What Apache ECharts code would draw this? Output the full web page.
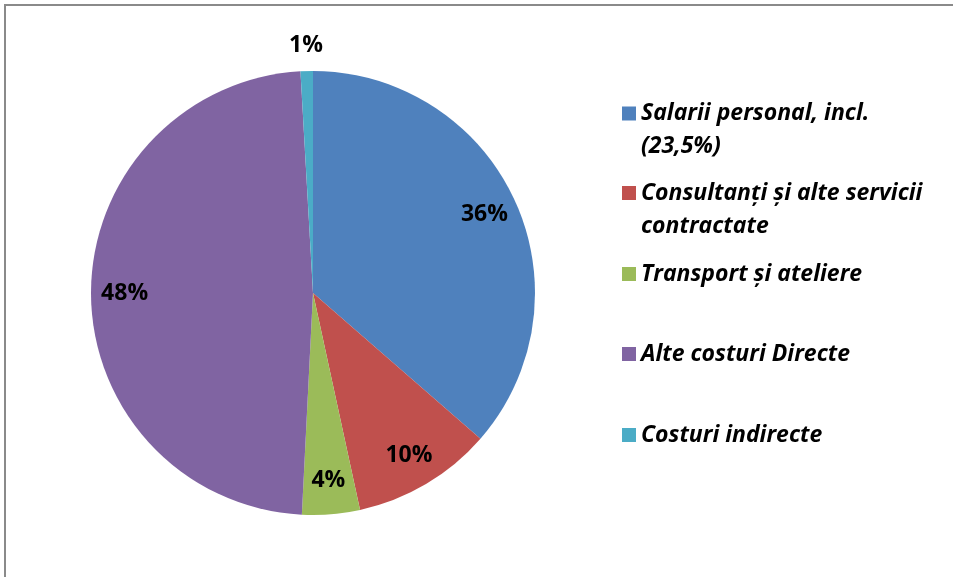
<!DOCTYPE html>
<html>
<head>
<meta charset="utf-8">
<script src="https://cdn.jsdelivr.net/npm/echarts@6/dist/echarts.min.js"></script>
<style>
  html, body { margin: 0; padding: 0; background: #fff; }
  #chart { width: 953px; height: 577px; }
</style>
</head>
<body>
<div id="chart"></div>
<script>
// date
var categorii = [
  'Salarii personal, incl.\n(23,5%)',
  'Consultanți și alte servicii\ncontractate',
  'Transport și ateliere',
  'Alte costuri Directe',
  'Costuri indirecte'
];
var valori = [36.4, 10.2, 4.2, 48.3, 0.9];
var culori = ['#4F81BD', '#C0504D', '#9BBB59', '#8064A2', '#4BACC6'];
// eticheta 1% se afla in afara feliei
var etichetaExterioara = [false, false, false, false, true];

var myChart = echarts.init(document.getElementById('chart'));

var centru = [313, 293];
var raza = 222;
var font = '"Open Sans", Lato, sans-serif';

function dateFelii(culoare) {
  return categorii.map(function (n, i) {
    return {
      name: n,
      value: valori[i],
      itemStyle: { color: culoare ? culori[i] : 'rgba(0,0,0,0)' }
    };
  });
}

function eticheta(p) {
  return Math.round(p.percent) + '%';
}

var stilEticheta = {
  color: '#000',
  fontFamily: font,
  fontWeight: 'bold',
  fontSize: 23
};

// legenda: cate una pe element ca sa pastram spatierea din original
var legendTop = [64, 143.5, 257.5, 337.5, 418.5];
var legende = categorii.map(function (n, i) {
  return {
    data: [n],
    orient: 'vertical',
    left: 622,
    top: legendTop[i],
    padding: 0,
    icon: 'rect',
    itemWidth: 14,
    itemHeight: 14,
    selectedMode: false,
    // textul pe doua randuri incepe in dreptul markerului
    formatter: function (name) {
      return name.indexOf('\n') >= 0 ? '\n' + name : name;
    },
    textStyle: {
      color: '#000',
      fontFamily: font,
      fontWeight: 'bold',
      fontStyle: 'italic',
      fontSize: 23,
      lineHeight: 33
    }
  };
});

var option = {
  animation: false,
  backgroundColor: '#fff',
  legend: legende,
  graphic: [{
    type: 'rect',
    shape: { x: 5, y: 5, width: 1000, height: 700 },
    style: { fill: 'none', stroke: '#8a8a8a', lineWidth: 2 },
    silent: true
  }],
  series: [
    {
      // feliile vizibile
      name: 'Costuri',
      type: 'pie',
      center: centru,
      radius: raza,
      startAngle: 90,
      clockwise: true,
      avoidLabelOverlap: false,
      label: { show: false },
      labelLine: { show: false },
      itemStyle: { borderWidth: 0 },
      data: dateFelii(true)
    },
    {
      // etichete interioare (~0.84 din raza)
      name: 'etichete',
      type: 'pie',
      center: centru,
      radius: [0, raza * 1.67],
      startAngle: 90,
      silent: true,
      avoidLabelOverlap: false,
      labelLine: { show: false },
      label: Object.assign({ show: true, position: 'inside', formatter: eticheta }, stilEticheta),
      data: dateFelii(false).map(function (d, i) {
        d.label = { show: !etichetaExterioara[i] };
        return d;
      })
    },
    {
      // eticheta exterioara (1%)
      name: 'etichete-ext',
      type: 'pie',
      center: centru,
      radius: [0, 490],
      startAngle: 90,
      silent: true,
      avoidLabelOverlap: false,
      labelLine: { show: false },
      label: Object.assign({ show: true, position: 'inside', formatter: eticheta }, stilEticheta),
      data: dateFelii(false).map(function (d, i) {
        d.label = { show: etichetaExterioara[i] };
        return d;
      })
    }
  ]
};

myChart.setOption(option);
</script>
</body>
</html>
